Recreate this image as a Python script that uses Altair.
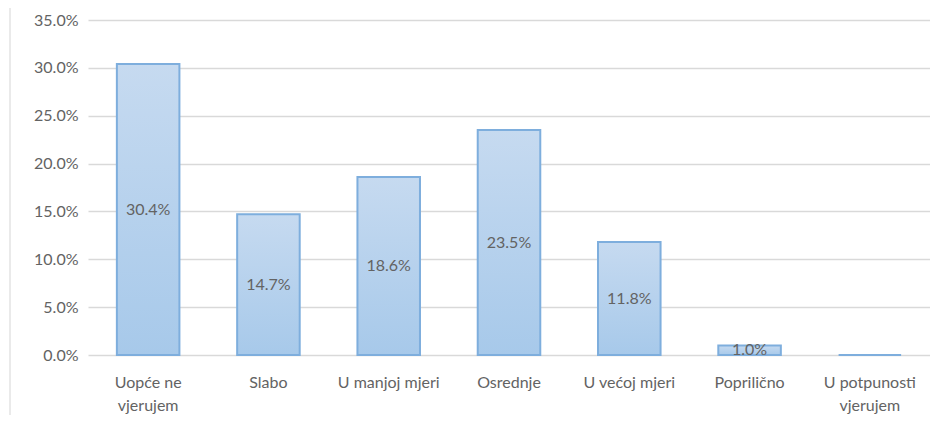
import altair as alt
import pandas as pd

categories = ["Uopće ne|vjerujem", "Slabo", "U manjoj mjeri", "Osrednje",
              "U većoj mjeri", "Popriličnо".replace("о", "o"), "U potpunosti|vjerujem"]
values = [0.304, 0.147, 0.186, 0.235, 0.118, 0.010, 0.0]
labels = ["30.4%", "14.7%", "18.6%", "23.5%", "11.8%", "1.0%", ""]
y_ticks = [0, 0.05, 0.10, 0.15, 0.20, 0.25, 0.30, 0.35]

df = pd.DataFrame({"cat": categories, "val": values, "lab": labels})
df["half"] = df["val"] / 2

FONT = "Lato"
GRAY = "#636363"

x = alt.X("cat:N", sort=categories, title=None,
          scale=alt.Scale(paddingInner=0.48, paddingOuter=0.24),
          axis=alt.Axis(labelAngle=0, labelExpr="split(datum.label, '|')",
                        labelFont=FONT, labelFontSize=16, labelColor=GRAY,
                        labelPadding=19, labelLineHeight=23, domain=False, ticks=False))

y_scale = alt.Scale(domain=[0, 0.35], nice=False)

bars = alt.Chart(df).mark_bar(
    color=alt.Gradient(gradient="linear",
                       stops=[alt.GradientStop(color="#c6daf0", offset=0),
                              alt.GradientStop(color="#a7c9ea", offset=1)],
                       x1=0, x2=0, y1=0, y2=1),
    stroke="#7eaedd", strokeWidth=2,
).encode(
    x=x,
    y=alt.Y("val:Q", scale=y_scale, title=None,
            axis=alt.Axis(values=y_ticks, format=".1%", labelFont=FONT, labelFontSize=16,
                          labelColor=GRAY, labelPadding=10, domain=False, ticks=False,
                          gridColor="#d9d9d9", gridWidth=1.5)),
)

text = alt.Chart(df).mark_text(font=FONT, fontSize=16, color=GRAY).encode(
    x=alt.X("cat:N", sort=categories),
    y=alt.Y("half:Q", scale=y_scale),
    text="lab:N",
)

border = alt.Chart(pd.DataFrame({"a": [0]})).mark_rule(color="#e3e3e3", strokeWidth=1.5).encode(
    x=alt.value(-78), y=alt.value(-14), y2=alt.value(410)
)

chart = alt.layer(bars, text, border).properties(
    width=842, height=335,
    autosize=alt.AutoSizeParams(type="none"),
    padding={"left": 80, "top": 12, "right": 0, "bottom": 60},
).configure_view(stroke=None)

chart.save("out.html", embed_options={"renderer": "svg", "actions": False})
